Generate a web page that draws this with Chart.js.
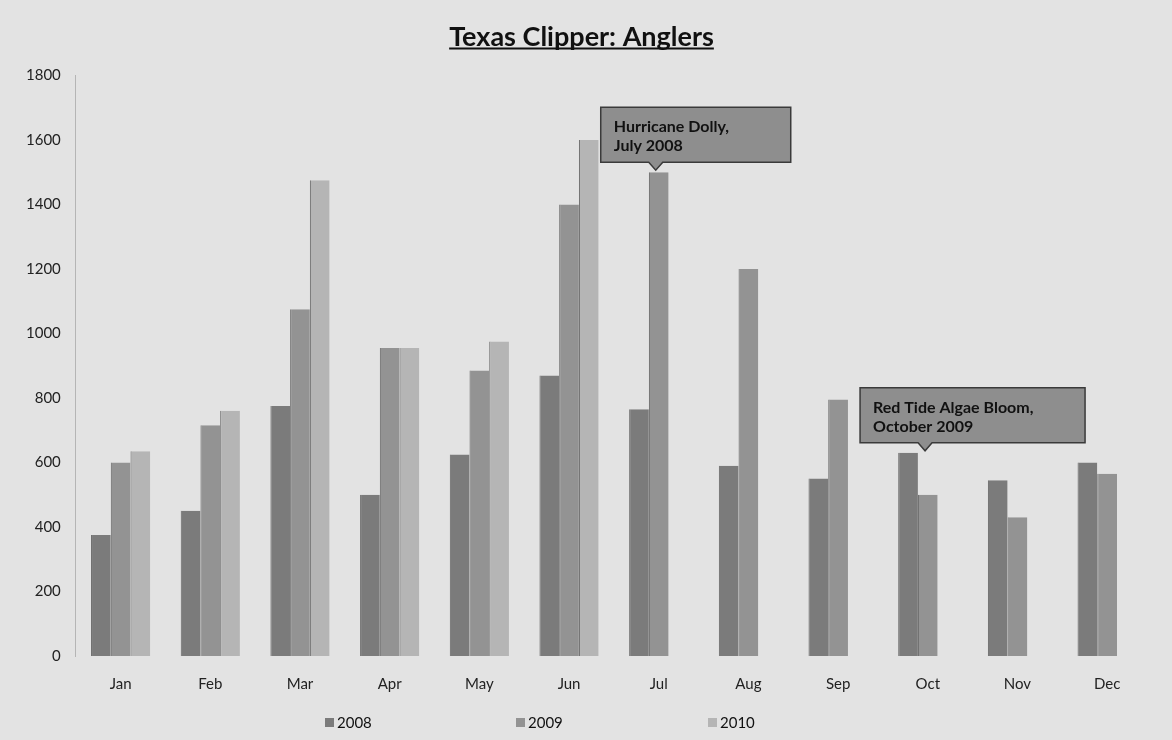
<!DOCTYPE html>
<html>
<head>
<meta charset="utf-8">
<script src="https://cdn.jsdelivr.net/npm/chart.js@4.4.1/dist/chart.umd.min.js"></script>
<style>
  html, body { margin: 0; padding: 0; background: #e3e3e3; }
  .wrap { position: relative; width: 1172px; height: 740px; }
  #legend { position: absolute; left: 0; top: 713px; width: 1172px; font-family: Lato, "Open Sans", sans-serif; font-size: 15px; color: #111; }
  #legend span { position: absolute; display: flex; align-items: center; }
  #legend i { display: inline-block; width: 9px; height: 9px; margin-right: 3px; }
</style>
</head>
<body>
<div class="wrap">
  <canvas id="chart" width="1172" height="740"></canvas>
  <div id="legend"></div>
</div>
<script>
const months = ['Jan', 'Feb', 'Mar', 'Apr', 'May', 'Jun', 'Jul', 'Aug', 'Sep', 'Oct', 'Nov', 'Dec'];
const years = ['2008', '2009', '2010'];
const anglers2008 = [375, 450, 775, 500, 625, 870, 765, 590, 550, 630, 545, 600];
const anglers2009 = [600, 715, 1075, 955, 885, 1400, 1500, 1200, 795, 500, 430, 565];
const anglers2010 = [635, 760, 1475, 955, 975, 1600, null, null, null, null, null, null];
const yTicks = [0, 200, 400, 600, 800, 1000, 1200, 1400, 1600, 1800];
// annotation text and which bar it points to (series, month)
const notes = [
  { lines: ['Hurricane Dolly,', 'July 2008'], series: 1, month: 6 },
  { lines: ['Red Tide Algae Bloom,', 'October 2009'], series: 0, month: 9 }
];

const colors = ['#7b7b7b', '#939393', '#b5b5b5'];
const font = 'Lato, "Open Sans", sans-serif';

// box geometry relative to the anchored bar top
const noteBoxes = [
  { dx: -58, w: 190, tipDx: -3 },
  { dx: -48, w: 225, tipDx: 17 }
];

const titleUnderline = {
  id: 'titleUnderline',
  afterDraw(chart) {
    const tb = chart.titleBlock;
    if (!tb) return;
    const ctx = chart.ctx;
    ctx.save();
    ctx.font = 'bold 27px ' + font;
    const w = ctx.measureText(chart.options.plugins.title.text).width;
    const cx = tb.left + tb.width / 2;
    const y = tb.top + tb.height - tb.options.padding.bottom - 5;
    ctx.strokeStyle = '#111';
    ctx.lineWidth = 2;
    ctx.beginPath();
    ctx.moveTo(cx - w / 2, y);
    ctx.lineTo(cx + w / 2, y);
    ctx.stroke();
    ctx.restore();
  }
};

const callouts = {
  id: 'callouts',
  afterDatasetsDraw(chart) {
    const ctx = chart.ctx;
    notes.forEach((n, i) => {
      const bar = chart.getDatasetMeta(n.series).data[n.month];
      const g = noteBoxes[i];
      const bottom = bar.y - 10;
      const top = bottom - 55;
      const left = bar.x + g.dx;
      const tipX = bar.x + g.tipDx;
      ctx.save();
      ctx.beginPath();
      ctx.moveTo(left, top);
      ctx.lineTo(left + g.w, top);
      ctx.lineTo(left + g.w, bottom);
      ctx.lineTo(tipX + 7, bottom);
      ctx.lineTo(tipX, bar.y - 2);
      ctx.lineTo(tipX - 7, bottom);
      ctx.lineTo(left, bottom);
      ctx.closePath();
      ctx.fillStyle = '#8e8e8e';
      ctx.fill();
      ctx.strokeStyle = '#3a3a3a';
      ctx.lineWidth = 1.5;
      ctx.stroke();
      ctx.fillStyle = '#111';
      ctx.font = 'bold 16px ' + font;
      ctx.textBaseline = 'middle';
      n.lines.forEach((t, k) => ctx.fillText(t, left + 13, top + 20 + k * 19));
      ctx.restore();
    });
  }
};

const ctx = document.getElementById('chart').getContext('2d');
new Chart(ctx, {
  type: 'bar',
  data: {
    labels: months,
    datasets: [anglers2008, anglers2009, anglers2010].map((d, i) => ({
      label: years[i],
      data: d,
      backgroundColor: colors[i],
      borderColor: '#666',
      borderWidth: { left: 1, right: 0, top: 0, bottom: 0 },
      categoryPercentage: 0.66,
      barPercentage: 1.0
    }))
  },
  options: {
    responsive: false,
    animation: false,
    layout: { padding: { left: 11, right: 20, top: 2, bottom: 28 } },
    plugins: {
      legend: { display: false },
      tooltip: { enabled: false },
      title: {
        display: true,
        text: 'Texas Clipper: Anglers',
        color: '#111',
        font: { family: font, size: 27, weight: 'bold' },
        padding: { top: 19, bottom: 22 }
      }
    },
    scales: {
      x: {
        grid: { display: false, drawTicks: false },
        border: { display: false },
        ticks: { color: '#222', font: { family: font, size: 15 }, padding: 19 }
      },
      y: {
        min: 0,
        max: 1800,
        afterBuildTicks(axis) { axis.ticks = yTicks.map(v => ({ value: v })); },
        grid: { display: false, drawTicks: false },
        border: { display: true, color: '#b5b5b5' },
        ticks: { color: '#222', font: { family: font, size: 15 }, padding: 15, callback: v => String(v) }
      }
    }
  },
  plugins: [titleUnderline, callouts]
});

// legend with wide Excel-like spacing
const legendX = [325, 516, 708];
const legend = document.getElementById('legend');
years.forEach((y, i) => {
  const s = document.createElement('span');
  s.style.left = legendX[i] + 'px';
  s.innerHTML = '<i style="background:' + colors[i] + '"></i>' + y;
  legend.appendChild(s);
});
</script>
</body>
</html>
